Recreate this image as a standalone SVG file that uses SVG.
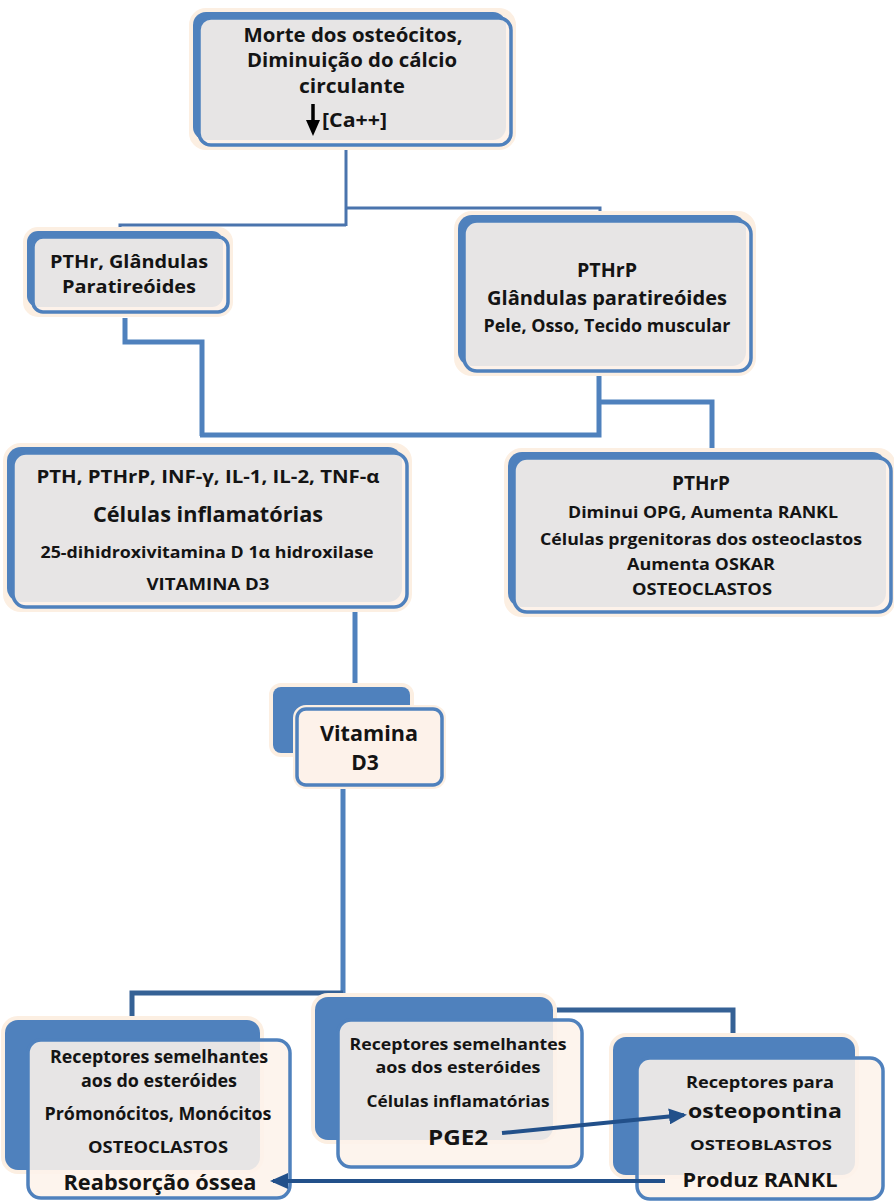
<svg xmlns="http://www.w3.org/2000/svg" width="894" height="1204" viewBox="0 0 894 1204">
<defs>
<style>
.halo{fill:#fcefe2;stroke:#fcefe2;stroke-width:8;}
.back{fill:#4f81bd;}
.front{fill:#fdf3ea;fill-opacity:0.88;stroke:#4f81bd;stroke-width:3.5;}
text{font-family:"Open Sans","Liberation Sans",sans-serif;font-weight:700;fill:#141414;text-anchor:middle;}
text.st{text-anchor:start;}
.c1{fill:none;stroke:#4a74ad;stroke-width:3;}
.c2{fill:none;stroke:#4f81bd;stroke-width:5;}
.c3{fill:none;stroke:#356195;stroke-width:5;}
.arr{fill:none;stroke:#22508a;stroke-width:4;}
</style>
<marker id="ah" markerUnits="userSpaceOnUse" markerWidth="18" markerHeight="16" viewBox="0 0 18 16" refX="15" refY="8" orient="auto">
<path d="M0,0 L18,8 L0,16 z" fill="#22508a"/>
</marker>
</defs>
<rect width="894" height="1204" fill="#ffffff"/>

<g id="connectors">
<path class="c1" d="M346 147 V226"/>
<path class="c1" d="M120 230 V225 H346"/>
<path class="c1" d="M346 208 H600 V216"/>
<path class="c2" d="M125 318 V342 H202 V436"/>
<path class="c2" d="M200 435 H599 V372"/>
<path class="c2" d="M599 402 H712 V457"/>
<path class="c2" d="M355 608 V722"/>
<path class="c2" d="M343 760 V993"/>
<path class="c3" d="M132 1021 V993 H343"/>
<path class="c3" d="M343 993 V1010 H733 V1038"/>
</g>

<g id="n1">
<rect class="halo" x="193" y="12" width="319" height="134" rx="13"/>
<rect class="back" x="193" y="12" width="313" height="128" rx="13"/>
<rect class="front" x="199" y="18" width="312" height="127" rx="12"/>
<text x="353" y="42" font-size="19" textLength="219" lengthAdjust="spacingAndGlyphs">Morte dos osteócitos,</text>
<text x="352" y="67" font-size="19" textLength="210" lengthAdjust="spacingAndGlyphs">Diminuição do cálcio</text>
<text x="352" y="93" font-size="19" textLength="106" lengthAdjust="spacingAndGlyphs">circulante</text>
<line x1="313" y1="104" x2="313" y2="122" stroke="#000" stroke-width="3.5"/>
<polygon points="306,120 320,120 313,136" fill="#000"/>
<text class="st" x="322" y="127" font-size="19" textLength="65" lengthAdjust="spacingAndGlyphs">[Ca++]</text>
</g>

<g id="n2">
<rect class="halo" x="27" y="231" width="202" height="82" rx="11"/>
<rect class="back" x="27" y="231" width="196" height="76" rx="11"/>
<rect class="front" x="33" y="237" width="195" height="75" rx="10"/>
<text x="129" y="268" font-size="18" textLength="158" lengthAdjust="spacingAndGlyphs">PTHr, Glândulas</text>
<text x="129" y="293" font-size="18" textLength="134" lengthAdjust="spacingAndGlyphs">Paratireóides</text>
</g>

<g id="n3">
<rect class="halo" x="458" y="215" width="294" height="157" rx="14"/>
<rect class="back" x="458" y="215" width="288" height="151" rx="14"/>
<rect class="front" x="464" y="221" width="287" height="150" rx="13"/>
<text x="607" y="277" font-size="19" textLength="60" lengthAdjust="spacingAndGlyphs">PTHrP</text>
<text x="607" y="305" font-size="19" textLength="240" lengthAdjust="spacingAndGlyphs">Glândulas paratireóides</text>
<text x="607" y="332" font-size="17" textLength="247" lengthAdjust="spacingAndGlyphs">Pele, Osso, Tecido muscular</text>
</g>

<g id="n4">
<rect class="halo" x="7" y="447" width="401" height="161" rx="14"/>
<rect class="back" x="7" y="447" width="395" height="155" rx="14"/>
<rect class="front" x="13" y="453" width="394" height="154" rx="13"/>
<text x="208" y="483" font-size="18" textLength="343" lengthAdjust="spacingAndGlyphs">PTH, PTHrP, INF-γ, IL-1, IL-2, TNF-α</text>
<text x="208" y="522" font-size="22" textLength="230" lengthAdjust="spacingAndGlyphs">Células inflamatórias</text>
<text x="207" y="558" font-size="16.5" textLength="333" lengthAdjust="spacingAndGlyphs">25-dihidroxivitamina D 1α hidroxilase</text>
<text x="208" y="590" font-size="16.5" textLength="123" lengthAdjust="spacingAndGlyphs">VITAMINA D3</text>
</g>

<g id="n5">
<rect class="halo" x="508" y="452" width="384" height="161" rx="14"/>
<rect class="back" x="508" y="452" width="378" height="155" rx="14"/>
<rect class="front" x="514" y="458" width="377" height="154" rx="13"/>
<text x="701" y="490" font-size="19" textLength="58" lengthAdjust="spacingAndGlyphs">PTHrP</text>
<text x="703" y="518" font-size="16.5" textLength="270" lengthAdjust="spacingAndGlyphs">Diminui OPG, Aumenta RANKL</text>
<text x="701" y="545" font-size="16.5" textLength="322" lengthAdjust="spacingAndGlyphs">Células prgenitoras dos osteoclastos</text>
<text x="701" y="570" font-size="16.5" textLength="148" lengthAdjust="spacingAndGlyphs">Aumenta OSKAR</text>
<text x="702" y="595" font-size="16.5" textLength="140" lengthAdjust="spacingAndGlyphs">OSTEOCLASTOS</text>
</g>

<g id="n6">
<rect class="halo" x="273" y="687" width="137" height="66" rx="8"/>
<rect class="back" x="273" y="687" width="137" height="66" rx="8"/>
<rect class="halo" x="297" y="709" width="145" height="76" rx="9"/>
<rect class="front" x="297" y="709" width="145" height="76" rx="9"/>
<text x="369" y="741" font-size="21" textLength="98" lengthAdjust="spacingAndGlyphs">Vitamina</text>
<text x="365" y="770" font-size="21">D3</text>
</g>

<g id="n7">
<rect class="halo" x="5" y="1020" width="255" height="150" rx="13"/>
<rect class="back" x="5" y="1020" width="255" height="150" rx="13"/>
<rect class="front" x="28" y="1040" width="262" height="158" rx="13"/>
<text x="159" y="1063" font-size="17" textLength="218" lengthAdjust="spacingAndGlyphs">Receptores semelhantes</text>
<text x="159" y="1087" font-size="17" textLength="156" lengthAdjust="spacingAndGlyphs">aos do esteróides</text>
<text x="158" y="1120" font-size="17" textLength="227" lengthAdjust="spacingAndGlyphs">Prómonócitos, Monócitos</text>
<text x="158" y="1153" font-size="16" textLength="140" lengthAdjust="spacingAndGlyphs">OSTEOCLASTOS</text>
<text x="160" y="1190" font-size="21" textLength="193" lengthAdjust="spacingAndGlyphs">Reabsorção óssea</text>
</g>

<g id="n8">
<rect class="halo" x="315" y="997" width="238" height="143" rx="13"/>
<rect class="back" x="315" y="997" width="238" height="143" rx="13"/>
<rect class="front" x="338" y="1020" width="244" height="147" rx="13"/>
<text x="458" y="1050" font-size="16.5" textLength="217" lengthAdjust="spacingAndGlyphs">Receptores semelhantes</text>
<text x="458" y="1073" font-size="16.5" textLength="165" lengthAdjust="spacingAndGlyphs">aos dos esteróides</text>
<text x="458" y="1107" font-size="16.5" textLength="183" lengthAdjust="spacingAndGlyphs">Células inflamatórias</text>
<text x="458" y="1145" font-size="21" textLength="60" lengthAdjust="spacingAndGlyphs">PGE2</text>
</g>

<g id="n9">
<rect class="halo" x="613" y="1037" width="242" height="138" rx="13"/>
<rect class="back" x="613" y="1037" width="242" height="138" rx="13"/>
<rect class="front" x="637" y="1058" width="246" height="141" rx="13"/>
<text x="760" y="1088" font-size="15.5" textLength="148" lengthAdjust="spacingAndGlyphs">Receptores para</text>
<text x="765" y="1118" font-size="20" textLength="154" lengthAdjust="spacingAndGlyphs">osteopontina</text>
<text x="761" y="1150" font-size="15" textLength="142" lengthAdjust="spacingAndGlyphs">OSTEOBLASTOS</text>
<text x="760" y="1187" font-size="20" textLength="155" lengthAdjust="spacingAndGlyphs">Produz RANKL</text>
</g>

<g id="arrows">
<path class="arr" d="M502 1133 L684 1115" marker-end="url(#ah)"/>
<path class="arr" d="M665 1181 L273 1181" marker-end="url(#ah)"/>
</g>
</svg>
